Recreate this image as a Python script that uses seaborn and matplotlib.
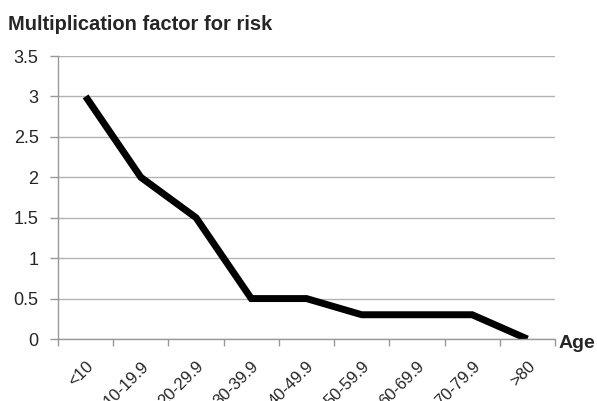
import matplotlib
matplotlib.use("Agg")
import matplotlib.pyplot as plt
import seaborn as sns
import pandas as pd
import numpy as np

categories = ["<10", "10-19.9", "20-29.9", "30-39.9", "40-49.9",
              "50-59.9", "60-69.9", "70-79.9", ">80"]
risk_factor = [3.0, 2.0, 1.5, 0.5, 0.5, 0.3, 0.3, 0.3, 0.0]
y_ticks = [0, 0.5, 1, 1.5, 2, 2.5, 3, 3.5]
y_tick_labels = ["0", "0.5", "1", "1.5", "2", "2.5", "3", "3.5"]

sns.set_theme(style="white")
plt.rcParams['font.family'] = ['Liberation Sans', 'DejaVu Sans']

df = pd.DataFrame({"pos": np.arange(len(categories)), "risk": risk_factor})

fig = plt.figure(figsize=(5.97, 4.01), dpi=100)
ax = fig.add_axes([58/597, 1 - 339/401, (555 - 58)/597, (339 - 56)/401])

sns.lineplot(data=df, x="pos", y="risk", ax=ax, color="black", linewidth=5,
             solid_joinstyle="miter", solid_capstyle="butt")

ax.set_xlim(-0.5, len(categories) - 0.5)
ax.set_ylim(0, 3.5)
ax.set_yticks(y_ticks)
ax.set_yticklabels(y_tick_labels, fontsize=13)
ax.yaxis.grid(True, color="#b3b3b3", linewidth=1)
ax.set_axisbelow(True)

ax.set_xticks(np.arange(len(categories)))
ax.set_xticklabels(categories, fontsize=12, rotation=45, ha="right",
                   rotation_mode="anchor")
ax.set_xticks(np.arange(len(categories) + 1) - 0.5, minor=True)
ax.tick_params(axis="x", which="major", length=0, pad=14)
ax.tick_params(axis="x", which="minor", length=5, color="#999999", width=1,
               direction="out", bottom=True)
ax.tick_params(axis="y", which="major", length=6, color="#999999", width=1,
               direction="out", left=True, pad=8)

for s in ["top", "right"]:
    ax.spines[s].set_visible(False)
for s in ["left", "bottom"]:
    ax.spines[s].set_color("#999999")
    ax.spines[s].set_linewidth(1)

ax.set_xlabel("")
ax.set_ylabel("")

fig.text(8/597, 1 - 24/401, "Multiplication factor for risk", fontsize=14.5,
         fontweight="bold", ha="left", va="center")
fig.text(559/597, 1 - 343/401, "Age", fontsize=14, fontweight="bold",
         ha="left", va="center")

fig.savefig("out.png", dpi=100)
